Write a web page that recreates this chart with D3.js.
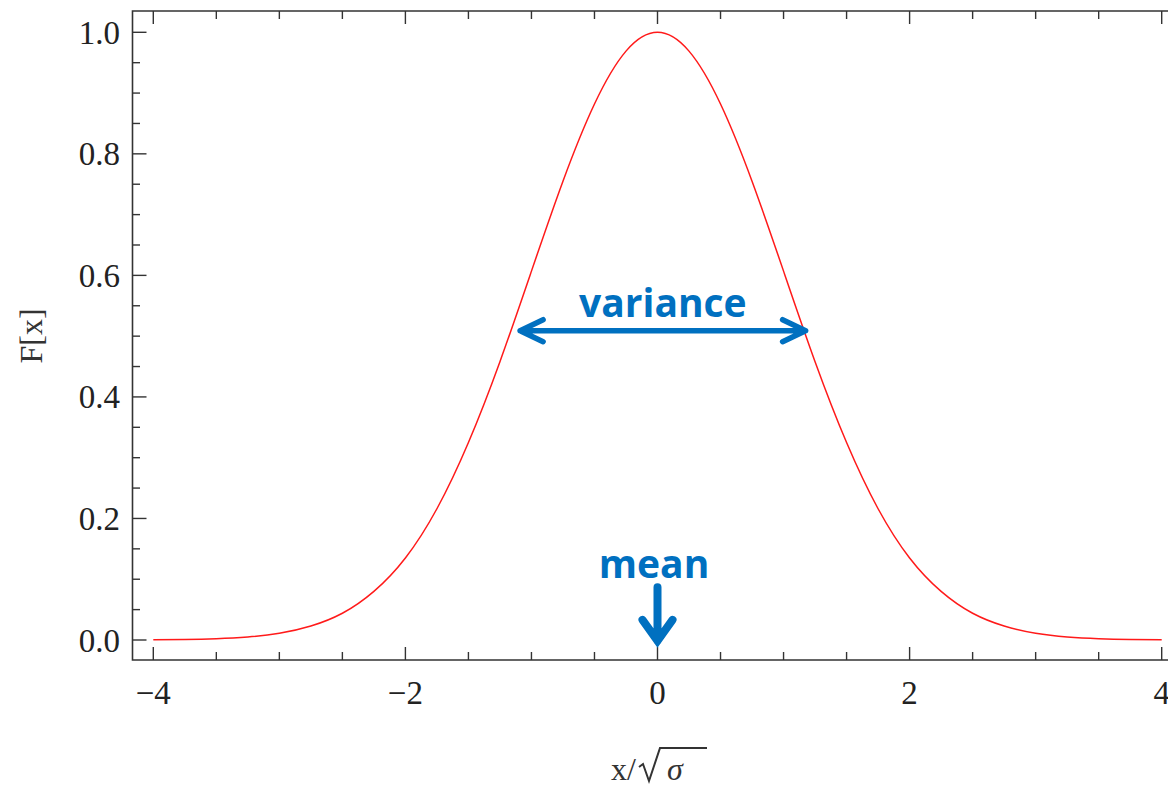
<!DOCTYPE html>
<head>
<meta charset="utf-8">
<script src="https://d3js.org/d3.v7.min.js"></script>
<style>
  body { margin: 0; background: #fff; }
  .tick-label { font-family: "Liberation Serif", "DejaVu Serif", serif; font-size: 33px; fill: #222; }
  .title { font-family: "Liberation Serif", "DejaVu Serif", serif; font-size: 32px; fill: #333; }
  .note { font-family: "Open Sans", "Noto Sans", sans-serif; font-weight: bold; font-size: 39px; fill: #0070c0; }
</style>
</head>
<body>
<div id="my_dataviz"></div>
<script>

// curve (x in units of sqrt(sigma))
var xs = [-4, -3.75, -3.5, -3.25, -3, -2.75, -2.5, -2.25, -2, -1.75, -1.5, -1.25, -1, -0.75, -0.5, -0.25,
          0, 0.25, 0.5, 0.75, 1, 1.25, 1.5, 1.75, 2, 2.25, 2.5, 2.75, 3, 3.25, 3.5, 3.75, 4]
var fx = [0.0003, 0.0009, 0.0022, 0.005, 0.011, 0.023, 0.044, 0.080, 0.135, 0.216, 0.325, 0.458, 0.607, 0.755, 0.882, 0.969,
          1.0, 0.969, 0.882, 0.755, 0.607, 0.458, 0.325, 0.216, 0.135, 0.080, 0.044, 0.023, 0.011, 0.005, 0.0022, 0.0009, 0.0003]

var xTicks = [-4, -2, 0, 2, 4]
var yTicks = [0, 0.2, 0.4, 0.6, 0.8, 1.0]

// annotations
var varianceArrow = [-1.09, 1.175, 0.509]   // x from, x to, F
var meanArrow = [0, 0.087, -0.008]          // x, F top, F tip

var W = 1168, H = 788
var frame = {left: 132.5, top: 11, bottom: 660, right: 1182}

var svg = d3.select("#my_dataviz").append("svg")
  .attr("width", W).attr("height", H)

var x = d3.scaleLinear().domain([-4, 4]).range([153.3, 1161.7])
var y = d3.scaleLinear().domain([0, 1]).range([640, 32.3])

var axisCol = "#333"

// frame
svg.append("path")
  .attr("d", "M" + frame.right + "," + frame.top + "H" + frame.left + "V" + frame.bottom + "H" + frame.right)
  .attr("fill", "none").attr("stroke", axisCol).attr("stroke-width", 1.6)

// x ticks (bottom and top), minor every 0.5
d3.range(-4, 4.01, 0.5).forEach(function(v) {
  var major = Math.abs(v % 2) < 1e-9
  var len = major ? 13 : 8
  svg.append("line").attr("x1", x(v)).attr("x2", x(v))
    .attr("y1", frame.bottom).attr("y2", frame.bottom - len)
    .attr("stroke", axisCol).attr("stroke-width", 1.4)
  svg.append("line").attr("x1", x(v)).attr("x2", x(v))
    .attr("y1", frame.top).attr("y2", frame.top + len)
    .attr("stroke", axisCol).attr("stroke-width", 1.4)
})

// y ticks, minor every 0.05
d3.range(0, 1.001, 0.05).forEach(function(v) {
  var major = Math.abs(Math.round(v * 100) % 20) < 1e-9
  var len = major ? 14 : 7.5
  svg.append("line").attr("x1", frame.left).attr("x2", frame.left + len)
    .attr("y1", y(v)).attr("y2", y(v))
    .attr("stroke", axisCol).attr("stroke-width", 1.4)
})

// tick labels
svg.selectAll(".xl").data(xTicks).enter().append("text")
  .attr("class", "tick-label")
  .attr("x", function(d) { return x(d) })
  .attr("y", 704)
  .attr("text-anchor", "middle")
  .text(function(d) { return d < 0 ? "\u2212" + Math.abs(d) : d })

svg.selectAll(".yl").data(yTicks).enter().append("text")
  .attr("class", "tick-label")
  .attr("x", 120)
  .attr("y", function(d) { return y(d) + 11.5 })
  .attr("text-anchor", "end")
  .text(function(d) { return d.toFixed(1) })

// axis titles
svg.append("text").attr("class", "title")
  .attr("transform", "translate(42,336) rotate(-90)")
  .attr("text-anchor", "middle")
  .text("F[x]")

// x/sqrt(sigma): text pieces plus a drawn radical sign
svg.append("text").attr("class", "title")
  .attr("x", 636).attr("y", 780)
  .attr("text-anchor", "end")
  .text("x/")
svg.append("text").attr("class", "title")
  .attr("x", 667).attr("y", 780)
  .attr("font-style", "italic")
  .text("\u03C3")
svg.append("path")
  .attr("d", "M639,767 L643,764 L649,781 L660,748 H707")
  .attr("fill", "none").attr("stroke", "#333").attr("stroke-width", 2)
  .attr("stroke-linejoin", "miter")

// curve
var pts = xs.map(function(v, i) { return [v, fx[i]] })
svg.append("path")
  .datum(pts)
  .attr("fill", "none")
  .attr("stroke", "#ff1a1a")
  .attr("stroke-width", 1.5)
  .attr("d", d3.line()
    .curve(d3.curveNatural)
    .x(function(d) { return x(d[0]) })
    .y(function(d) { return y(d[1]) }))

// variance arrow
var blue = "#0070c0"
var vx0 = x(varianceArrow[0]), vx1 = x(varianceArrow[1]), vy = y(varianceArrow[2])
svg.append("path")
  .attr("d", "M" + vx0 + "," + vy + "H" + vx1 +
    "M" + (vx0 + 23) + "," + (vy - 11) + "L" + vx0 + "," + vy + "L" + (vx0 + 23) + "," + (vy + 11) +
    "M" + (vx1 - 23) + "," + (vy - 11) + "L" + vx1 + "," + vy + "L" + (vx1 - 23) + "," + (vy + 11))
  .attr("fill", "none").attr("stroke", blue).attr("stroke-width", 5.5)
  .attr("stroke-linecap", "round").attr("stroke-linejoin", "round")
svg.append("text").attr("class", "note")
  .attr("x", (vx0 + vx1) / 2 + 0).attr("y", 316.5)
  .attr("text-anchor", "middle")
  .text("variance")

// mean arrow
var mx = x(meanArrow[0]), my0 = y(meanArrow[1]), my1 = y(meanArrow[2])
svg.append("path")
  .attr("d", "M" + mx + "," + my0 + "V" + (my1 - 4) +
    "M" + (mx - 15) + "," + (my1 - 25) + "L" + mx + "," + (my1 - 4) + "L" + (mx + 15) + "," + (my1 - 25))
  .attr("fill", "none").attr("stroke", blue).attr("stroke-width", 8)
  .attr("stroke-linecap", "round").attr("stroke-linejoin", "miter")
svg.append("text").attr("class", "note")
  .attr("x", 654).attr("y", 578)
  .attr("text-anchor", "middle")
  .text("mean")

</script>
</body>
